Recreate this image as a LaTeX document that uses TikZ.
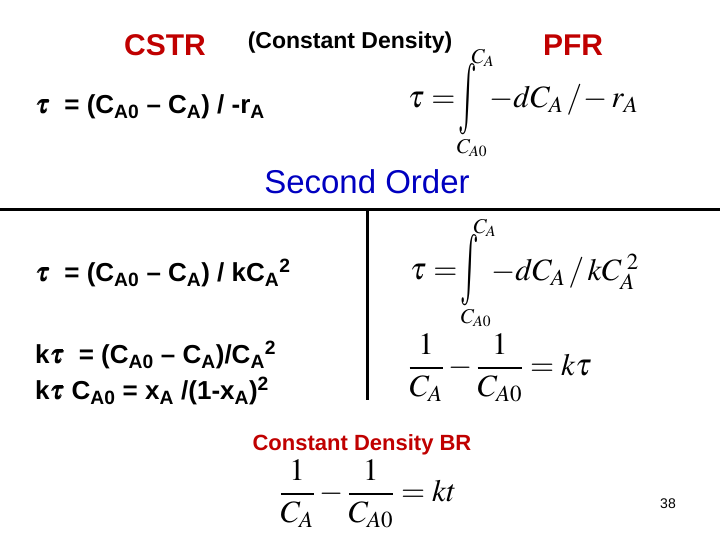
\documentclass[tikz,border=0pt]{standalone}
\usepackage{amsmath}
\usepackage{mathptmx}
\usepackage{bm}
\usepackage{fontspec}
\setmainfont{Liberation Sans}
\usepackage{graphicx}
\definecolor{dred}{RGB}{192,0,0}
\definecolor{dblue}{RGB}{0,0,192}
\tikzset{
  ttl/.style={font=\fontsize{30}{34}\selectfont\bfseries, text=dred, inner sep=0},
  eq/.style={font=\fontsize{26}{29}\selectfont\bfseries, anchor=west, inner sep=0},
  fm/.style={font=\fontsize{31}{36}\selectfont, inner sep=0},
  lim/.style={font=\fontsize{21}{24}\selectfont, inner sep=0},
  intg/.style={font=\fontsize{31}{36}\selectfont, inner sep=0},
}
\begin{document}
\begin{tikzpicture}[x=1pt,y=-1pt]
\useasboundingbox (0,0) rectangle (720,540);
\node[ttl] (cstr) at (165,45) {CSTR};
\node[font=\fontsize{23}{26}\selectfont\bfseries, inner sep=0] (cd) at (350,43) {(Constant Density)};
\node[ttl] (pfr) at (573,45) {PFR};
\node[eq] (e1) at (35,107) {$\bm{\tau}$\ \ = (C\textsubscript{A0} -- C\textsubscript{A}) / -r\textsubscript{A}};
% PFR integral
\node[fm, anchor=west] (t1) at (408,100) {$\tau=$};
\node[intg] (i1) at (468,99) {\scalebox{1}[2.3]{$\textstyle\int$}};
\node[lim] (u1) at (483,58) {$C_A$};
\node[lim] (l1) at (472,148) {$C_{A0}$};
\node[fm, anchor=west] (r1) at (489,100) {$-dC_A\,/\!-r_A$};
\node[font=\fontsize{33}{38}\selectfont, text=dblue, inner sep=0] (so) at (367,182) {Second Order};
\draw[line width=3pt] (0,210) -- (720,210);
\draw[line width=3pt] (367,210) -- (367,400);
\node[eq] (e2) at (35,273) {$\bm{\tau}$\ \ = (C\textsubscript{A0} -- C\textsubscript{A}) / kC\textsubscript{A}\textsuperscript{2}};
% second-order integral
\node[fm, anchor=west] (t2) at (410,272) {$\tau=$};
\node[intg] (i2) at (470,270) {\scalebox{1}[2.3]{$\textstyle\int$}};
\node[lim] (u2) at (485,228) {$C_A$};
\node[lim] (l2) at (476,318) {$C_{A0}$};
\node[fm, anchor=west] (r2) at (491,272) {$-dC_A\,/\,kC_A^{\;2}$};
\node[eq] (e3) at (35,355) {k$\bm{\tau}$\ \ = (C\textsubscript{A0} -- C\textsubscript{A})/C\textsubscript{A}\textsuperscript{2}};
\node[eq] (e4) at (35,391) {k$\bm{\tau}$ C\textsubscript{A0} = x\textsubscript{A} /(1-x\textsubscript{A})\textsuperscript{2}};
\node[fm] (f3) at (500,368) {$\displaystyle \frac{1}{C_A}-\frac{1}{C_{A0}}=k\tau$};
\node[font=\fontsize{22}{26}\selectfont\bfseries, text=dred, inner sep=0] (br) at (362,445) {Constant Density BR};
\node[fm] (f4) at (368,494) {$\displaystyle \frac{1}{C_A}-\frac{1}{C_{A0}}=kt$};
\node[font=\fontsize{14}{16}\selectfont, inner sep=0] (pg) at (668,504) {38};
\end{tikzpicture}
\end{document}
